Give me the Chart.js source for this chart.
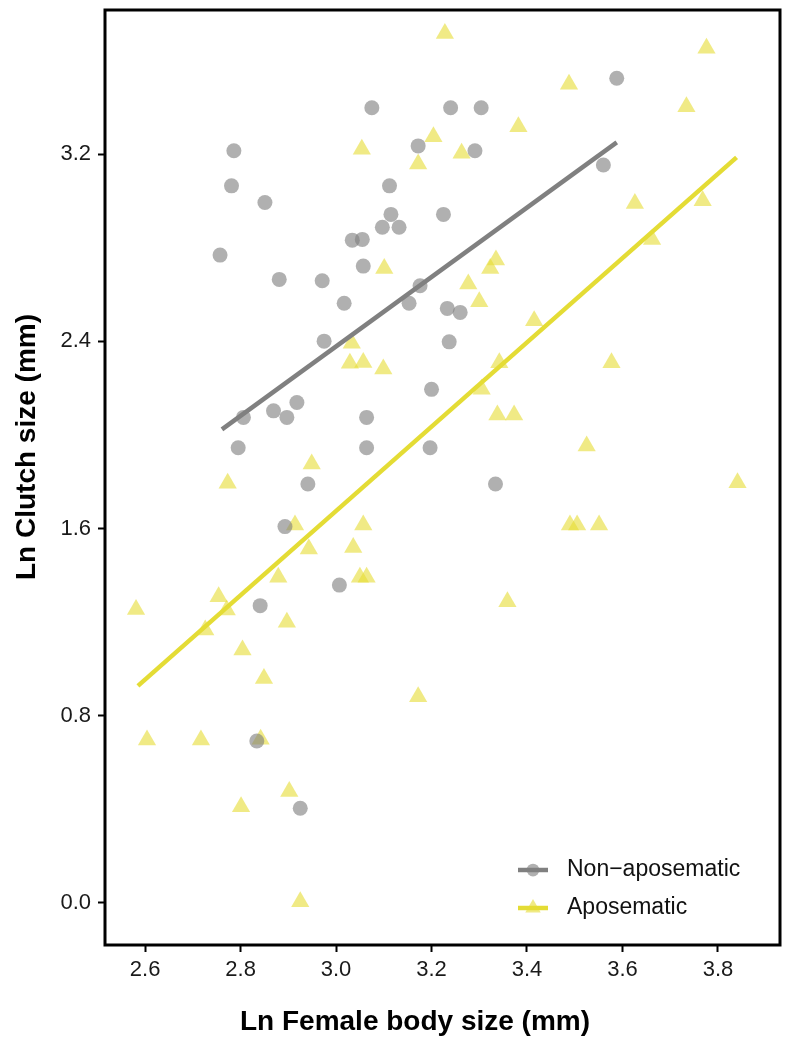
<!DOCTYPE html>
<html lang="en">

<head>
    <meta charset="UTF-8">
    <meta name="viewport" content="width=device-width, initial-scale=1.0">
    <title>Clutch size vs female body size</title>
    <script src="https://cdn.jsdelivr.net/npm/chart.js"></script>
    <style>
        body { margin: 0; background: #fff; }
        #wrap { width: 785px; height: 1044px; position: relative; }
    </style>
</head>

<body>
<div id="wrap">
    <canvas id="myChart"></canvas>
</div>

<script>
    // tick labels
    const xTicks = [2.6, 2.8, 3.0, 3.2, 3.4, 3.6, 3.8];
    const yTicks = [0.0, 0.8, 1.6, 2.4, 3.2];

    // non-aposematic species (grey circles)
    const nonAposX = [3.075, 2.786, 2.781, 2.851, 2.757, 2.881, 2.971, 3.017, 2.975, 3.172,
        3.112, 3.115, 3.097, 3.132, 3.034, 3.055, 3.057, 3.176, 3.153, 3.225,
        3.588, 3.240, 3.304, 3.291, 3.560, 3.233, 3.260, 3.237, 3.200, 2.806,
        2.869, 2.897, 2.918, 3.064, 2.795, 3.064, 3.197, 2.941, 2.893, 3.007,
        2.841, 3.334, 2.834, 2.925];
    const nonAposY = [3.399, 3.215, 3.065, 2.994, 2.769, 2.665, 2.659, 2.563, 2.401, 3.236,
        3.065, 2.943, 2.888, 2.888, 2.833, 2.836, 2.722, 2.638, 2.563, 2.943,
        3.525, 3.399, 3.399, 3.215, 3.154, 2.541, 2.524, 2.398, 2.195, 2.075,
        2.103, 2.075, 2.139, 2.075, 1.945, 1.945, 1.945, 1.790, 1.608, 1.358,
        1.270, 1.790, 0.691, 0.404];

    // aposematic species (yellow triangles)
    const aposX = [3.228, 3.776, 3.488, 3.734, 3.382, 3.204, 3.054, 3.263, 3.172, 3.626,
        3.768, 3.662, 3.335, 3.323, 3.101, 3.277, 3.300, 3.415, 3.033, 3.029,
        3.057, 3.099, 3.342, 3.577, 3.305, 3.338, 3.373, 3.525, 2.949, 2.773,
        3.841, 2.914, 3.057, 3.490, 3.505, 3.551, 2.943, 3.036, 2.879, 3.050,
        3.064, 3.359, 2.581, 2.754, 2.771, 2.726, 2.897, 2.804, 2.849, 3.172,
        2.604, 2.717, 2.842, 2.902, 2.801, 2.925];
    const aposY = [3.717, 3.653, 3.500, 3.403, 3.318, 3.275, 3.222, 3.204, 3.158, 2.990,
        3.001, 2.836, 2.748, 2.712, 2.712, 2.645, 2.569, 2.488, 2.392, 2.306,
        2.310, 2.282, 2.309, 2.309, 2.195, 2.085, 2.085, 1.953, 1.876, 1.793,
        1.796, 1.615, 1.615, 1.615, 1.615, 1.615, 1.512, 1.519, 1.391, 1.391,
        1.391, 1.287, 1.254, 1.308, 1.251, 1.166, 1.199, 1.080, 0.959, 0.881,
        0.696, 0.696, 0.699, 0.475, 0.410, 0.004];

    // fitted regression lines (end points)
    const nonAposFitX = [2.761, 3.588];
    const nonAposFitY = [2.024, 3.251];
    const aposFitX = [2.585, 3.839];
    const aposFitY = [0.927, 3.187];

    const greyPoint = 'rgba(128,128,128,0.62)';
    const greyLine = '#808080';
    const yellowPoint = 'rgba(230,220,52,0.6)';
    const yellowLine = '#e4dc35';
    const fontFamily = '"Liberation Sans", Arial, Helvetica, sans-serif';

    const toXY = (xs, ys) => xs.map((x, i) => ({ x: x, y: ys[i] }));

    // box around the panel, ggplot style
    const panelBorder = {
        id: 'panelBorder',
        afterDatasetsDraw(chart) {
            const a = chart.chartArea;
            const ctx = chart.ctx;
            ctx.save();
            ctx.strokeStyle = '#000';
            ctx.lineWidth = 3;
            ctx.strokeRect(a.left, a.top, a.right - a.left, a.bottom - a.top);
            ctx.restore();
        }
    };

    // axis titles + legend inside the panel
    const extras = {
        id: 'extras',
        afterDraw(chart) {
            const ctx = chart.ctx;
            ctx.save();
            ctx.fillStyle = '#000';
            ctx.font = 'bold 28px ' + fontFamily;
            ctx.textAlign = 'center';
            ctx.textBaseline = 'middle';
            ctx.fillText('Ln Female body size (mm)', 415, 1022);
            ctx.translate(27, 447);
            ctx.rotate(-Math.PI / 2);
            ctx.fillText('Ln Clutch size (mm)', 0, 0);
            ctx.restore();

            const items = [
                { ds: chart.data.datasets[2], line: greyLine, y: 870 },
                { ds: chart.data.datasets[3], line: yellowLine, y: 908 }
            ];
            ctx.save();
            items.forEach(it => {
                ctx.strokeStyle = it.line;
                ctx.lineWidth = 4.5;
                ctx.beginPath();
                ctx.moveTo(518, it.y);
                ctx.lineTo(548, it.y);
                ctx.stroke();
                ctx.fillStyle = it.ds.backgroundColor;
                Chart.helpers.drawPoint(ctx, {
                    pointStyle: it.ds.pointStyle,
                    radius: it.ds.pointRadius * 0.85,
                    rotation: 0,
                    borderWidth: 0
                }, 533, it.y);
                ctx.fillStyle = '#111';
                ctx.font = '23px ' + fontFamily;
                ctx.textAlign = 'left';
                ctx.textBaseline = 'middle';
                ctx.fillText(it.ds.label, 567, it.y);
            });
            ctx.restore();
        }
    };

    const ctx = document.getElementById('myChart').getContext('2d');
    const clutchChart = new Chart(ctx, {
        type: 'scatter',
        data: {
            datasets: [{
                type: 'line',
                label: 'fit non',
                data: toXY(nonAposFitX, nonAposFitY),
                borderColor: greyLine,
                borderWidth: 4.5,
                pointRadius: 0,
                fill: false,
                order: 0
            }, {
                type: 'line',
                label: 'fit apo',
                data: toXY(aposFitX, aposFitY),
                borderColor: yellowLine,
                borderWidth: 4.5,
                pointRadius: 0,
                fill: false,
                order: 0
            }, {
                label: 'Non\u2212aposematic',
                data: toXY(nonAposX, nonAposY),
                pointStyle: 'circle',
                pointRadius: 7.5,
                backgroundColor: greyPoint,
                borderWidth: 0,
                order: 1
            }, {
                label: 'Aposematic',
                data: toXY(aposX, aposY),
                pointStyle: 'triangle',
                pointRadius: 10.5,
                backgroundColor: yellowPoint,
                borderWidth: 0,
                order: 2
            }]
        },
        options: {
            responsive: true,
            maintainAspectRatio: false,
            animation: false,
            events: [],
            layout: { autoPadding: false, padding: { top: 10, right: 5, left: 0, bottom: 0 } },
            plugins: {
                legend: { display: false },
                tooltip: { enabled: false }
            },
            scales: {
                x: {
                    type: 'linear',
                    min: 2.516,
                    max: 3.93,
                    afterBuildTicks: scale => { scale.ticks = xTicks.map(v => ({ value: v })); },
                    afterFit: scale => {
                        scale.height = 99;
                        scale.paddingLeft = 0;
                        scale.paddingRight = 0;
                    },
                    grid: { drawOnChartArea: false, drawTicks: true, tickLength: 7, tickWidth: 2, tickColor: '#000' },
                    border: { display: false },
                    ticks: {
                        padding: 5,
                        color: '#1a1a1a',
                        font: { family: fontFamily, size: 22 },
                        callback: v => v.toFixed(1)
                    }
                },
                y: {
                    type: 'linear',
                    min: -0.181,
                    max: 3.817,
                    afterBuildTicks: scale => { scale.ticks = yTicks.map(v => ({ value: v })); },
                    afterFit: scale => {
                        scale.width = 105;
                        scale.paddingTop = 0;
                        scale.paddingBottom = 0;
                    },
                    grid: { drawOnChartArea: false, drawTicks: true, tickLength: 7, tickWidth: 2, tickColor: '#000' },
                    border: { display: false },
                    ticks: {
                        padding: 7,
                        color: '#1a1a1a',
                        font: { family: fontFamily, size: 22 },
                        callback: v => v.toFixed(1)
                    }
                }
            }
        },
        plugins: [panelBorder, extras]
    });
</script>
</body>

</html>
